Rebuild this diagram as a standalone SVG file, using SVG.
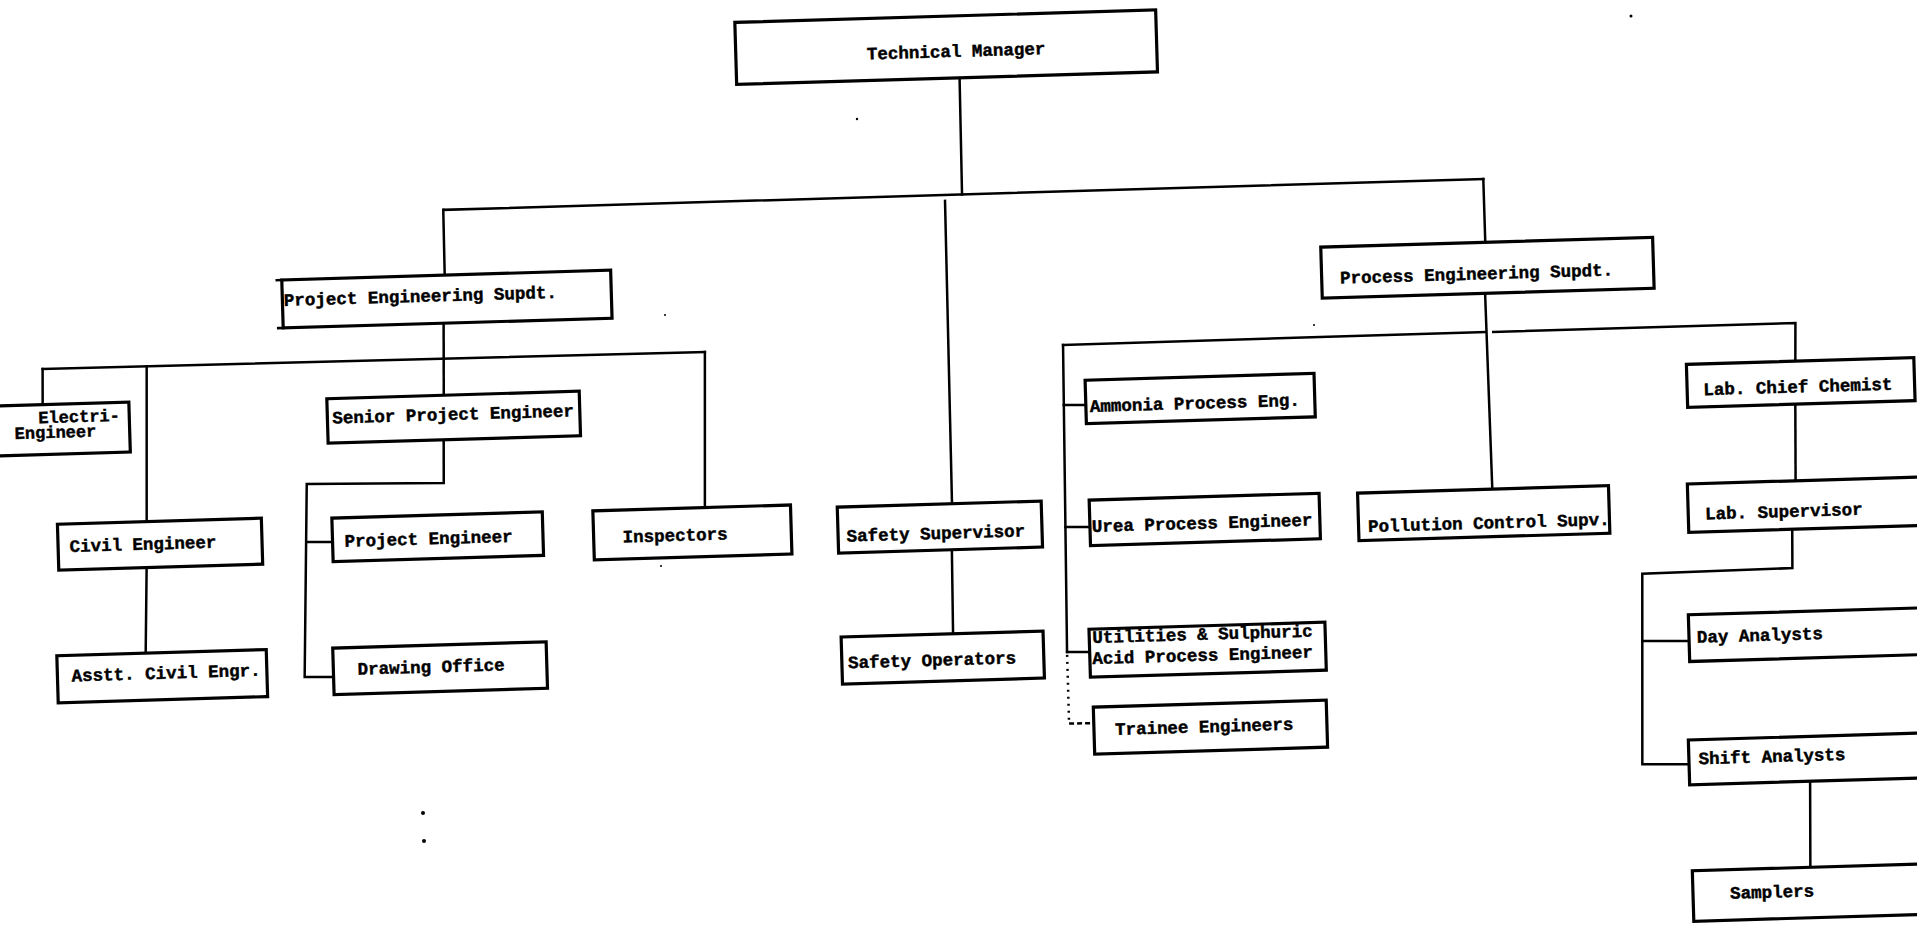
<svg xmlns="http://www.w3.org/2000/svg" width="1917" height="926" viewBox="0 0 1917 926">
  <style>
    .box { fill: #fff; stroke: #000; stroke-width: 3.2; }
    .lbl { font-family: "Liberation Mono", "Courier New", monospace; font-weight: bold; font-size: 17.5px; fill: #000; stroke: #000; stroke-width: 0.45; }
    .small { font-size: 17px; }
    .wire { fill: none; stroke: #000; stroke-width: 2.5; stroke-linejoin: miter; stroke-linecap: square; }
    .dotted { fill: none; stroke: #000; stroke-width: 2.5; stroke-dasharray: 2 5; }
    .dashed { fill: none; stroke: #000; stroke-width: 2.5; stroke-dasharray: 5 3; }
    .speck { fill: #000; }
  </style>
  <rect width="1917" height="926" fill="#fff"/>

  <!-- the whole sheet sits slightly rotated on the page -->
  <g transform="rotate(-1.7 958 463)">
    <g id="connectors">
      <!-- Technical Manager to the three branches -->
      <path class="wire" d="M971,78 L970,194.7"/>
      <path class="wire" d="M451,194.7 H1491.5"/>
      <path class="wire" d="M451,194.7 L450.5,260"/>
      <path class="wire" d="M1491.5,194.7 L1491.6,258"/>
      <path class="wire" d="M952.8,200.6 L950.8,503.5"/>
      <path class="wire" d="M949.3,549.5 L948,633.5"/>

      <!-- Project engineering branch -->
      <path class="wire" d="M448,308 L446,380"/>
      <path class="wire" d="M45.8,341.8 L708.3,344.5"/>
      <path class="wire" d="M45.8,341.8 L44.8,377.5"/>
      <path class="wire" d="M149.9,342.2 L145.3,497.5"/>
      <path class="wire" d="M143.9,543 L140.4,629"/>
      <path class="wire" d="M708.3,344.5 L703.7,500"/>
      <path class="wire" d="M444.6,424.5 L443.4,467.7 L306.4,464.7 L298.6,657.6 L327.5,658.4"/>
      <path class="wire" d="M304.7,522.7 L330.5,523.4"/>

      <!-- Process engineering branch -->
      <path class="wire" d="M1489.9,309 L1491.3,505"/>
      <path class="wire" d="M1066.5,348.1 L1488.9,347.7"/>
      <path class="wire" d="M1496.9,347.9 L1799.2,347.9 L1798,386"/>
      <path class="wire" d="M1066.5,348.1 L1061.4,655.2"/>
      <path class="dotted" d="M1061.4,658 L1061.3,726.3"/>
      <path class="dashed" d="M1061.3,726.8 L1086,727"/>
      <path class="wire" d="M1065.5,408.2 L1087.5,408.8"/>
      <path class="wire" d="M1063.5,530.2 L1088,530.9"/>
      <path class="wire" d="M1061.4,655.2 L1084,655.9"/>

      <!-- Laboratory chain -->
      <path class="wire" d="M1796.7,429 L1794.7,505.6"/>
      <path class="wire" d="M1789.9,554 L1788.9,592.8 L1638.7,593.9 L1633.1,784.4 L1679.8,785.8"/>
      <path class="wire" d="M1636.7,661.1 L1683.5,662.5"/>
      <path class="wire" d="M1800.3,806.4 L1798,892.4"/>
    </g>

    <g id="technical-manager">
      <rect class="box" x="748" y="16" width="421" height="62"/>
      <text class="lbl" x="879" y="57">Technical Manager</text>
    </g>

    <g id="project-engineering-supdt">
      <rect class="box" x="287.5" y="260" width="329" height="48"/>
      <path class="wire" d="M282.5,260 H288 M282.5,308 H288"/>
      <text class="lbl" x="289" y="286">Project Engineering Supdt.</text>
    </g>

    <g id="electrical-engineer">
      <rect class="box" x="-60" y="377.5" width="191" height="50"/>
      <text class="lbl small" x="40" y="396">Electri-</text>
      <text class="lbl small" x="16" y="411">Engineer</text>
    </g>

    <g id="civil-engineer">
      <rect class="box" x="56" y="497.5" width="204" height="46"/>
      <text class="lbl" x="67.4" y="525.6">Civil Engineer</text>
    </g>

    <g id="asstt-civil-engr">
      <rect class="box" x="51.5" y="629" width="209.5" height="47"/>
      <text class="lbl" x="65.6" y="655">Asstt. Civil Engr.</text>
    </g>

    <g id="senior-project-engineer">
      <rect class="box" x="329" y="380" width="252.5" height="44.5"/>
      <text class="lbl" x="334" y="405">Senior Project Engineer</text>
    </g>

    <g id="project-engineer">
      <rect class="box" x="330.5" y="499.5" width="210.5" height="43.5"/>
      <text class="lbl" x="342.5" y="528.6">Project Engineer</text>
    </g>

    <g id="drawing-office">
      <rect class="box" x="327.5" y="629.5" width="213.5" height="46.5"/>
      <text class="lbl" x="351.7" y="656.8">Drawing Office</text>
    </g>

    <g id="inspectors">
      <rect class="box" x="591.6" y="500" width="197.7" height="49"/>
      <text class="lbl" x="620.6" y="532.6">Inspectors</text>
    </g>

    <g id="safety-supervisor">
      <rect class="box" x="836" y="503.5" width="204" height="46"/>
      <text class="lbl" x="844.4" y="538.3">Safety Supervisor</text>
    </g>

    <g id="safety-operators">
      <rect class="box" x="836" y="633.5" width="202" height="47"/>
      <text class="lbl" x="842.2" y="665">Safety Operators</text>
    </g>

    <g id="process-engineering-supdt">
      <rect class="box" x="1327" y="258" width="332" height="51"/>
      <text class="lbl" x="1345.4" y="295">Process Engineering Supdt.</text>
    </g>

    <g id="ammonia-process-eng">
      <rect class="box" x="1087.5" y="384" width="229" height="43.5"/>
      <text class="lbl" x="1091.5" y="415.9">Ammonia Process Eng.</text>
    </g>

    <g id="urea-process-engineer">
      <rect class="box" x="1088" y="504" width="230" height="45.5"/>
      <text class="lbl" x="1090" y="536">Urea Process Engineer</text>
    </g>

    <g id="utilities-sulphuric-acid">
      <rect class="box" x="1084" y="633" width="236" height="48"/>
      <text class="lbl" x="1087" y="647">Utilities &amp; Sulphuric</text>
      <text class="lbl" x="1086.5" y="668">Acid Process Engineer</text>
    </g>

    <g id="trainee-engineers">
      <rect class="box" x="1086" y="711" width="233" height="47"/>
      <text class="lbl" x="1107" y="739.5">Trainee Engineers</text>
    </g>

    <g id="pollution-control-supv">
      <rect class="box" x="1356.5" y="505" width="251" height="47.5"/>
      <text class="lbl" x="1366" y="544.2">Pollution Control Supv.</text>
    </g>

    <g id="lab-chief-chemist">
      <rect class="box" x="1689" y="386" width="227.5" height="43"/>
      <text class="lbl" x="1705.3" y="417.4">Lab. Chief Chemist</text>
    </g>

    <g id="lab-supervisor">
      <rect class="box" x="1686.4" y="505.6" width="260" height="48.4"/>
      <text class="lbl" x="1703.3" y="541.6">Lab. Supervisor</text>
    </g>

    <g id="day-analysts">
      <rect class="box" x="1683.5" y="636.4" width="260" height="46.7"/>
      <text class="lbl" x="1691.4" y="664.6">Day Analysts</text>
    </g>

    <g id="shift-analysts">
      <rect class="box" x="1679.8" y="761.5" width="260" height="44.9"/>
      <text class="lbl" x="1689.4" y="786.1">Shift Analysts</text>
    </g>

    <g id="samplers">
      <rect class="box" x="1679.9" y="892.4" width="260" height="50.5"/>
      <text class="lbl" x="1717.1" y="921.6">Samplers</text>
    </g>
  </g>

  <!-- stray marks on the sheet -->
  <circle class="speck" cx="423" cy="813" r="2"/>
  <circle class="speck" cx="424" cy="841" r="2"/>
  <circle class="speck" cx="857" cy="119" r="1.2"/>
  <circle class="speck" cx="1631" cy="16" r="1.5"/>
  <circle class="speck" cx="1314" cy="325" r="1"/>
  <circle class="speck" cx="665" cy="315" r="1"/>
  <circle class="speck" cx="661" cy="566" r="1"/>
</svg>
